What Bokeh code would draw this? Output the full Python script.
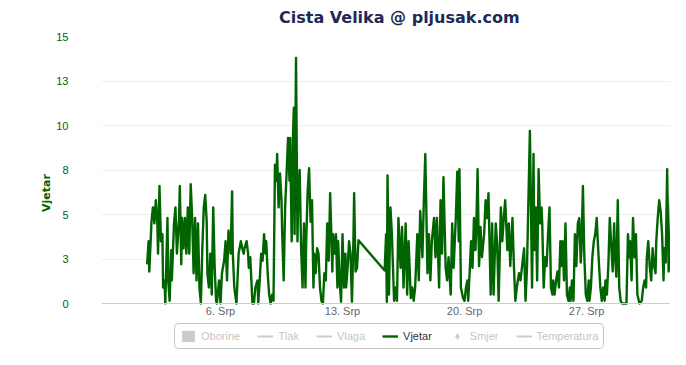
from datetime import datetime, timedelta
from bokeh.plotting import figure
from bokeh.models import (ColumnDataSource, Range1d, FixedTicker, CustomJSTickFormatter,
                          Legend, LegendItem)
from bokeh.embed import file_html
from bokeh.resources import INLINE

# ---------------- data (hours since 1 July 00:00, wind speed) ----------------
hours_a = [19, 21, 22, 25, 27, 29, 31, 33, 34, 36, 38, 40, 41, 43, 44, 47, 48, 50, 52, 53,
           56, 58, 60, 63, 64, 66, 67, 69, 71, 73, 75, 77, 79, 81, 83, 85, 87, 89, 91, 93,
           95, 97, 99, 101, 102, 104, 106, 108, 110, 112, 114, 115, 118, 120, 122, 125, 127,
           129, 131, 134, 136, 137, 139, 142, 145, 148, 150, 152, 153, 156, 158, 159, 161,
           164, 166, 168, 171, 172, 174, 176, 178, 180, 182, 183, 185, 187, 189, 191, 193,
           195, 197, 198, 200, 202, 204, 205, 207, 209, 211, 213, 215, 216, 218, 220, 221,
           222, 224, 226, 227, 229, 231, 233, 235, 237, 238, 240, 242, 244, 246, 248, 249,
           251, 253, 255, 257, 259, 261, 263, 265, 267, 269, 271, 274, 275, 277, 279, 281,
           282, 284, 286, 288, 290, 292, 293, 295, 297, 299, 301, 303, 304, 306, 308, 310]
wind_a = [2.2, 3.5, 1.8, 4.6, 5.4, 4.5, 5.8, 4.6, 2.8, 6.6, 3.5, 3.9, 0.9, 1.3, 0, 4.8, 1.3,
          0.15, 3.0, 1.3, 4.5, 5.4, 2.8, 4.8, 6.6, 2.2, 4.8, 3.1, 4.8, 2.8, 5.4, 2.8, 6.7, 4.8,
          1.7, 4.8, 1.3, 4.5, 0.9, 0, 3.1, 5.4, 6.1, 4.6, 1.7, 0.9, 2.8, 0.5, 5.4, 2.0, 0.15,
          0, 1.3, 0, 1.7, 2.4, 3.5, 1.3, 4.1, 2.8, 6.3, 2.8, 0.9, 0, 2.8, 3.5, 3.1, 2.8, 3.1,
          3.5, 2.8, 2.0, 2.6, 0, 0, 0.9, 1.3, 0, 1.3, 2.8, 2.4, 3.9, 2.8, 3.5, 1.7, 0.5, 0,
          0.5, 0.15, 7.8, 6.9, 8.4, 5.4, 7.3, 5.8, 3.9, 1.3, 5.4, 7.3, 9.3, 6.9, 9.3, 3.5, 9.7,
          11.0, 3.9, 13.8, 3.5, 6.1, 7.5, 3.1, 0.9, 4.5, 0.9, 3.5, 6.3, 7.6, 4.6, 5.8, 0.9,
          2.8, 1.7, 3.1, 2.8, 0.9, 0.15, 0, 1.7, 1.3, 4.5, 2.4, 6.2, 1.8, 3.9, 2.8, 3.9, 0.9,
          3.5, 1.3, 0.1, 3.9, 0.9, 2.8, 0.9, 2.0, 3.5, 2.8, 0.1, 3.5, 6.2, 1.8, 2.0, 3.55]

hours_b = [346, 348, 349, 350, 352, 354, 356, 359, 361, 363, 365, 368, 370, 372, 375, 377,
           379, 382, 384, 386, 388, 391, 393, 395, 398, 400, 402, 405, 407, 409, 411, 414,
           416, 418, 421, 423, 425, 427, 430, 432, 434, 437, 439, 441, 444, 446, 448, 449,
           451, 454, 456, 458, 460, 461, 463, 465, 467, 469, 471, 472, 474, 476, 478, 480,
           483, 485, 487, 489, 492, 494, 496, 499, 501, 503, 506, 508, 510, 512, 515, 517,
           519, 522, 524, 526, 528, 531, 533, 535, 538, 540, 542, 546, 549, 551, 552, 554,
           556, 558, 560, 562, 563, 565, 567, 569, 571, 573, 575, 577, 578, 580, 582, 584,
           586, 588, 589, 591, 593, 595, 597, 599, 601, 602, 604, 606, 608, 610, 612, 614,
           616, 617, 619, 621, 623, 625, 627, 628, 630, 632, 634, 636, 638, 639, 641, 643,
           645, 647, 649, 650, 652, 654, 656, 658, 660, 662, 663, 665, 667, 669, 671, 673,
           679, 681, 683, 684, 686, 688, 690, 692, 694, 696, 697, 700, 702, 704, 706, 707,
           709, 711, 713, 715, 717, 719, 720, 722, 724, 726, 728, 730, 731, 733, 735, 737,
           739, 741, 742]
wind_b = [1.85, 3.9, 0.1, 7.2, 0.5, 5.4, 3.9, 0.15, 0.9, 0.15, 4.8, 2.0, 4.3, 0.9, 4.5, 0.5,
          3.5, 0.3, 0.9, 0.15, 0.9, 3.9, 1.3, 5.2, 2.6, 5.8, 8.4, 1.7, 3.9, 1.3, 3.5, 4.8,
          2.6, 4.8, 0.9, 5.8, 2.8, 7.1, 2.0, 1.3, 2.6, 0.5, 4.5, 2.0, 4.8, 7.4, 3.5, 7.55,
          0.9, 0.3, 0.15, 0.9, 1.3, 0.15, 1.7, 3.5, 2.0, 4.8, 3.0, 3.9, 7.55, 2.1, 4.3, 2.6,
          3.9, 5.8, 4.8, 6.2, 0.5, 4.5, 0.5, 4.5, 3.3, 0.15, 5.4, 3.5, 4.8, 5.8, 3.0, 4.5,
          2.1, 4.8, 2.1, 0.15, 0.9, 1.7, 1.3, 2.0, 3.1, 0.15, 2.0, 9.7, 0.9, 8.4, 3.0, 5.4,
          1.3, 7.55, 4.5, 5.4, 4.5, 0.9, 2.6, 2.1, 3.9, 5.4, 0.9, 0.5, 1.3, 0.5, 1.3, 1.8,
          0.9, 3.5, 2.1, 3.5, 1.3, 4.5, 0.5, 0.15, 0.9, 0.15, 1.3, 0.15, 3.9, 2.1, 4.5, 4.8,
          2.3, 3.0, 6.6, 2.6, 0.5, 0.15, 1.3, 0.15, 0.9, 2.6, 3.5, 3.9, 4.8, 3.9, 2.3, 0.9,
          0.15, 0.9, 0.15, 1.3, 0.5, 2.1, 4.8, 3.3, 1.8, 4.5, 3.0, 1.5, 5.8, 0.9, 0.15, 0,
          0, 3.9, 2.6, 3.5, 1.3, 4.8, 2.6, 3.9, 0.5, 0.15, 0, 0.15, 0.9, 1.3, 0.9, 2.6,
          3.5, 2.1, 1.3, 3.1, 2.1, 1.7, 3.5, 4.8, 5.8, 5.2, 3.9, 1.3, 3.1, 2.3, 7.55, 1.8,
          2.6, 7.2, 3.9]

y_ticks = [0, 2.5, 5, 7.5, 10, 12.5, 15]
x_tick_days = [6, 13, 20, 27]
legend_labels = ["Oborine", "Tlak", "Vlaga", "Vjetar", "Smjer", "Temperatura"]
title_text = "Cista Velika @ pljusak.com"
axis_title = "Vjetar"

# ---------------- helpers ----------------
T0 = datetime(2013, 7, 1)
EPOCH = datetime(1970, 1, 1)


def ms(dt):
    return (dt - EPOCH).total_seconds() * 1000.0


times = [ms(T0 + timedelta(hours=h)) for h in hours_a + hours_b]
values = wind_a + wind_b
src = ColumnDataSource(dict(t=times, v=values))

x_start = ms(T0 + timedelta(hours=-43.83))
x_end = ms(T0 + timedelta(hours=739.6))
# frame runs down to the bottom of the figure so that the legend fits inside it;
# the value axis keeps 15 units over 267 px
y_bottom = 15 - 313 / 17.8

p = figure(width=670, height=349, x_axis_type="datetime",
           output_backend="svg", toolbar_location=None,
           x_range=Range1d(x_start, x_end), y_range=Range1d(y_bottom, 15),
           min_border_left=101, min_border_right=0, min_border_top=36, min_border_bottom=0)
p.background_fill_color = "white"
p.border_fill_color = "white"
p.outline_line_color = None

GREEN = "#006400"

main = p.line(x="t", y="v", source=src, line_color=GREEN, line_width=2.4, line_join="round")

# title
p.title.text = title_text
p.title.align = "left"
p.title.offset = 177.5
p.title.vertical_align = "top"
p.title.standoff = 15
p.title.text_font = "DejaVu Sans"
p.title.text_font_style = "bold"
p.title.text_font_size = "16px"
p.title.text_color = "#1c2a5a"

# y axis
p.yaxis.ticker = FixedTicker(ticks=y_ticks)
p.yaxis.bounds = (0, 15)
p.yaxis.formatter = CustomJSTickFormatter(code="return Math.round(tick).toString();")
p.yaxis.axis_line_color = None
p.yaxis.major_tick_line_color = None
p.yaxis.minor_tick_line_color = None
p.yaxis.major_tick_out = 0
p.yaxis.major_tick_in = 0
p.yaxis.minor_tick_out = 0
p.yaxis.major_label_standoff = 33
p.yaxis.major_label_text_font = "Liberation Sans"
p.yaxis.major_label_text_font_size = "11px"
p.yaxis.major_label_text_color = GREEN
p.yaxis.axis_label = axis_title
p.yaxis.axis_label_text_font = "DejaVu Sans"
p.yaxis.axis_label_text_font_style = "bold"
p.yaxis.axis_label_text_font_size = "11px"
p.yaxis.axis_label_text_color = GREEN
p.yaxis.axis_label_standoff = 0

# x axis drawn at value 0
p.xaxis.fixed_location = 0
p.xaxis.ticker = FixedTicker(ticks=[ms(datetime(2013, 7, d)) for d in x_tick_days])
p.xaxis.formatter = CustomJSTickFormatter(
    code="const d = new Date(tick); return d.getUTCDate() + '. Srp';")
p.xaxis.axis_line_color = "#C0D0E0"
p.xaxis.major_tick_line_color = None
p.xaxis.minor_tick_line_color = None
p.xaxis.major_tick_out = 0
p.xaxis.major_tick_in = 0
p.xaxis.minor_tick_out = 0
p.xaxis.major_label_standoff = 1
p.xaxis.major_label_text_font = "Liberation Sans"
p.xaxis.major_label_text_font_size = "11px"
p.xaxis.major_label_text_color = "#666666"

# grids
p.xgrid.visible = False
p.ygrid.grid_line_color = "#eeeeee"

# legend: the other station series are switched off (hidden), shown greyed out
GREY = "#555555"
t_first, v_first = times[:1], values[:1]
r_ob = p.vbar(x=t_first, top=v_first, width=1, fill_color=GREY, line_color=None, visible=False)
r_tl = p.line(x=t_first, y=v_first, line_color=GREY, line_width=2, visible=False)
r_vl = p.line(x=t_first, y=v_first, line_color=GREY, line_width=2, visible=False)
r_sm = p.scatter(x=t_first, y=v_first, marker="diamond", size=8, fill_color=GREY,
                 line_color=GREY, visible=False)
r_te = p.line(x=t_first, y=v_first, line_color=GREY, line_width=2, visible=False)
rends = [r_ob, r_tl, r_vl, main, r_sm, r_te]
legend = Legend(items=[LegendItem(label=l, renderers=[r]) for l, r in zip(legend_labels, rends)],
                orientation="horizontal", location=(73, 0), click_policy="hide")
legend.glyph_width = 16
legend.glyph_height = 14
legend.label_height = 12
legend.label_width = 0
legend.label_standoff = 5
legend.spacing = 17
legend.padding = 5
legend.margin = 0
legend.label_text_font = "Liberation Sans"
legend.label_text_font_size = "11px"
legend.label_text_color = "#333333"
legend.border_line_color = "#909090"
legend.border_line_width = 1
legend.background_fill_color = "white"
legend.background_fill_alpha = 1
legend.inactive_fill_color = "white"
legend.inactive_fill_alpha = 0.7
if "border_radius" in Legend.properties():
    legend.border_radius = 5
p.add_layout(legend)

open("out.html", "w").write(file_html(p, INLINE))
